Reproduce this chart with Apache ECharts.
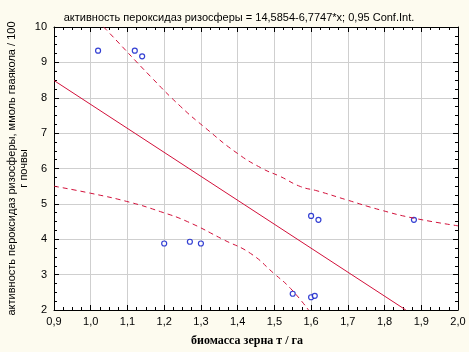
<!DOCTYPE html>
<html>
<head>
    <meta charset="UTF-8">
    <title>Peroxidase vs biomass</title>
    <script src="https://cdn.jsdelivr.net/npm/echarts@6/dist/echarts.min.js"></script>
    <style>
        html, body { margin: 0; padding: 0; background: #fdfbef; }
        #main { width: 469px; height: 352px; }
    </style>
</head>
<body>
<div id="main"></div>
<script type="text/javascript">
    // observed points (biomass, peroxidase activity)
    var biomass = [1.02, 1.12, 1.14, 1.20, 1.27, 1.30, 1.55, 1.60, 1.61, 1.60, 1.62, 1.88];
    var activity = [9.33, 9.33, 9.17, 3.88, 3.93, 3.88, 2.46, 2.36, 2.40, 4.66, 4.55, 4.55];

    // regression line y = 14,5854 - 6,7747x
    var regX = [0.9, 1.858];
    var regY = [8.488, 2.0];

    // 0,95 confidence bands
    var upperX = [1.035, 1.05, 1.163, 1.245, 1.313, 1.399, 1.467, 1.517, 1.571, 1.616, 1.698, 1.788, 1.878, 2.0];
    var upperY = [10.0, 9.84, 8.60, 7.75, 7.14, 6.43, 6.00, 5.77, 5.49, 5.37, 5.11, 4.83, 4.60, 4.38];
    var lowerX = [0.9, 1.0, 1.105, 1.19, 1.263, 1.363, 1.435, 1.498, 1.544, 1.593];
    var lowerY = [5.50, 5.30, 5.05, 4.78, 4.50, 3.98, 3.60, 3.04, 2.61, 2.0];

    var xTicks = { min: 0.9, max: 2.0, step: 0.1 };
    var yTicks = { min: 2, max: 10, step: 1 };

    function pairs(xs, ys) {
        var out = [];
        for (var i = 0; i < xs.length; i++) out.push([xs[i], ys[i]]);
        return out;
    }

    var red = '#d2103a';
    var font = 'Liberation Sans, Arial, sans-serif';

    function axisBase(extra) {
        var base = {
            type: 'value',
            axisLine: { show: true, onZero: false, lineStyle: { color: '#000', width: 1 } },
            axisTick: { show: true, inside: true, length: 5, lineStyle: { color: '#000' } },
            minorTick: { show: true, splitNumber: 4, length: 3, lineStyle: { color: '#000' } },
            splitLine: { show: false },
            axisLabel: { show: false }
        };
        for (var k in extra) base[k] = extra[k];
        return base;
    }

    var myChart = echarts.init(document.getElementById('main'));
    myChart.setOption({
        backgroundColor: '#fdfbef',
        animation: false,
        title: {
            text: 'активность пероксидаз ризосферы = 14,5854-6,7747*x; 0,95 Conf.Int.',
            left: 234, top: 7, textAlign: 'center',
            textStyle: { fontFamily: font, fontSize: 11, fontWeight: 'normal', color: '#000' }
        },
        grid: {
            left: 54, right: 11, top: 27, bottom: 42,
            outerBoundsMode: 'none', containLabel: false,
            show: true, backgroundColor: '#fff', borderWidth: 0
        },
        xAxis: [
            axisBase({
                min: xTicks.min, max: xTicks.max, interval: xTicks.step,
                name: 'биомасса зерна т / га', nameLocation: 'middle', nameGap: 25,
                nameMoveOverlap: false,
                nameTextStyle: {
                    fontFamily: 'Liberation Serif, Times New Roman, serif', fontWeight: 'bold',
                    fontSize: 12, color: '#000', padding: [0, 18, 0, 0]
                },
                splitLine: { show: true, lineStyle: { color: '#cfcfcf', width: 1 } },
                axisLabel: {
                    show: true, color: '#000', fontFamily: font, fontSize: 11, margin: 6,
                    formatter: function (v) { return v.toFixed(1).replace('.', ','); }
                }
            }),
            axisBase({ position: 'top', min: xTicks.min, max: xTicks.max, interval: xTicks.step })
        ],
        yAxis: [
            axisBase({
                min: yTicks.min, max: yTicks.max, interval: yTicks.step,
                name: 'активность пероксидаз ризосферы, ммоль гваякола / 100\nг почвы',
                nameLocation: 'middle', nameGap: 24, nameRotate: 90, nameMoveOverlap: false,
                nameTextStyle: { fontFamily: font, fontSize: 11, color: '#000', lineHeight: 12 },
                splitLine: { show: true, lineStyle: { color: '#cfcfcf', width: 1 } },
                axisLabel: { show: true, color: '#000', fontFamily: font, fontSize: 11, margin: 7 }
            }),
            axisBase({ position: 'right', min: yTicks.min, max: yTicks.max, interval: yTicks.step })
        ],
        series: [
            {
                type: 'line', data: pairs(upperX, upperY), smooth: true, symbol: 'none',
                lineStyle: { color: red, width: 1, type: [5, 4] }
            },
            {
                type: 'line', data: pairs(lowerX, lowerY), smooth: true, symbol: 'none',
                lineStyle: { color: red, width: 1, type: [5, 4] }
            },
            {
                type: 'line', data: pairs(regX, regY), symbol: 'none',
                lineStyle: { color: red, width: 1 }
            },
            {
                type: 'scatter', data: pairs(biomass, activity), symbol: 'circle', symbolSize: 5,
                itemStyle: { color: '#fff', borderColor: '#0010c8', borderWidth: 1.2 }
            }
        ]
    });
</script>
</body>
</html>
